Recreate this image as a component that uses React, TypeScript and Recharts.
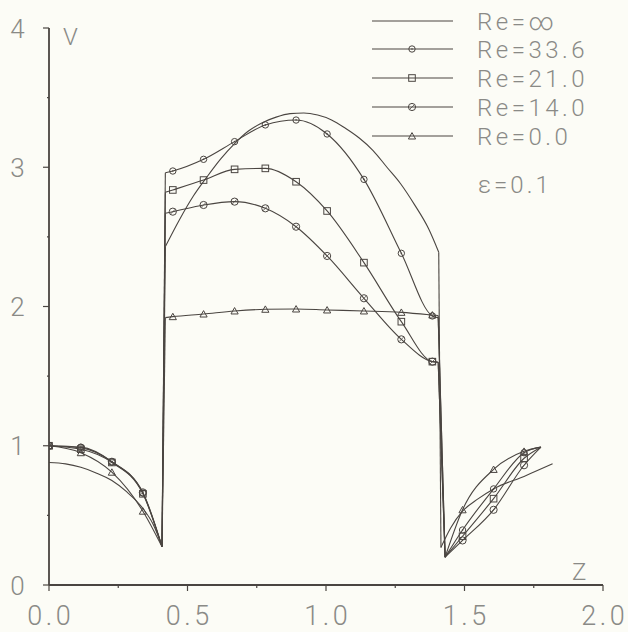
import React from "react";
import { LineChart, Line, XAxis, YAxis } from "recharts";

// ---------- axis ticks ----------
const zTicks = [0, 0.25, 0.5, 0.75, 1, 1.25, 1.5, 1.75, 2];
const zLabels: Record<string, string> = { "0": "0.0", "0.5": "0.5", "1": "1.0", "1.5": "1.5", "2": "2.0" };
const vTicks = [0, 0.5, 1, 1.5, 2, 2.5, 3, 3.5, 4];
const vLabels: Record<string, string> = { "0": "0", "1": "1", "2": "2", "3": "3", "4": "4" };

// z positions where symbols are plotted
const markerZ = [0, 0.115, 0.227, 0.339, 0.447, 0.558, 0.67, 0.781, 0.892, 1.004, 1.137, 1.272, 1.384, 1.493, 1.605, 1.715];

// ---------- series (z, V) ----------
const infLeft = [[0, 0.88], [0.06, 0.87], [0.115, 0.845], [0.17, 0.805], [0.227, 0.75], [0.28, 0.67], [0.339, 0.55], [0.375, 0.44], [0.408, 0.28]];
const infMid = [[0.42, 2.43], [0.47, 2.62], [0.52, 2.79], [0.57, 2.93], [0.62, 3.06], [0.67, 3.17], [0.72, 3.26], [0.77, 3.32], [0.82, 3.36], [0.87, 3.385], [0.92, 3.39], [0.97, 3.375], [1.02, 3.34], [1.07, 3.28], [1.12, 3.21], [1.17, 3.12], [1.22, 3.0], [1.27, 2.88], [1.32, 2.73], [1.37, 2.56], [1.407, 2.39]];
const infRight = [[1.415, 0.27], [1.45, 0.41], [1.493, 0.53], [1.55, 0.62], [1.605, 0.69], [1.715, 0.78], [1.818, 0.87]];

const re336Left = [[0, 1.0], [0.115, 0.99], [0.227, 0.885], [0.339, 0.66], [0.408, 0.275]];
const re336Mid = [[0.42, 2.96], [0.447, 2.973], [0.558, 3.057], [0.67, 3.184], [0.781, 3.304], [0.892, 3.339], [1.004, 3.239], [1.137, 2.913], [1.272, 2.382], [1.384, 1.932], [1.405, 1.92]];
const re336Right = [[1.43, 0.2], [1.493, 0.395], [1.605, 0.69], [1.715, 0.95], [1.776, 0.99]];

const re21Left = [[0, 1.0], [0.115, 0.975], [0.227, 0.88], [0.339, 0.655], [0.408, 0.275]];
const re21Mid = [[0.42, 2.82], [0.447, 2.837], [0.558, 2.908], [0.67, 2.985], [0.781, 2.992], [0.892, 2.896], [1.004, 2.686], [1.137, 2.315], [1.272, 1.891], [1.384, 1.604], [1.405, 1.6]];
const re21Right = [[1.43, 0.2], [1.493, 0.35], [1.605, 0.62], [1.715, 0.91], [1.776, 0.99]];

const re14Left = [[0, 1.0], [0.115, 0.985], [0.227, 0.885], [0.339, 0.665], [0.408, 0.275]];
const re14Mid = [[0.42, 2.67], [0.447, 2.681], [0.558, 2.729], [0.67, 2.753], [0.781, 2.705], [0.892, 2.573], [1.004, 2.363], [1.137, 2.059], [1.272, 1.764], [1.384, 1.604], [1.405, 1.6]];
const re14Right = [[1.43, 0.2], [1.493, 0.32], [1.605, 0.54], [1.715, 0.86], [1.776, 0.99]];

const re0Left = [[0, 1.0], [0.115, 0.95], [0.227, 0.81], [0.339, 0.53], [0.408, 0.275]];
const re0Mid = [[0.42, 1.92], [0.447, 1.927], [0.558, 1.946], [0.67, 1.968], [0.781, 1.98], [0.892, 1.982], [1.004, 1.975], [1.137, 1.968], [1.272, 1.958], [1.384, 1.939], [1.405, 1.935]];
const re0Right = [[1.43, 0.2], [1.493, 0.54], [1.605, 0.83], [1.715, 0.96], [1.776, 0.99]];

const seriesNames = ["Re=\u221e", "Re=33.6", "Re=21.0", "Re=14.0", "Re=0.0"];
const epsLabel = "\u03b5=0.1";

type Shape = "none" | "circleDot" | "square" | "circleSlash" | "triangle";

const INK = "#4a4541";
const TEXT = "#8a8a86";
const FONT = "Roboto, 'DejaVu Sans', sans-serif";

const toPts = (a: number[][]) => a.map(([x, y]) => ({ x, y }));

const seriesDefs: { name: string; shape: Shape; left: number[][]; mid: number[][]; right: number[][] }[] = [
  { name: seriesNames[0], shape: "none", left: infLeft, mid: infMid, right: infRight },
  { name: seriesNames[1], shape: "circleDot", left: re336Left, mid: re336Mid, right: re336Right },
  { name: seriesNames[2], shape: "square", left: re21Left, mid: re21Mid, right: re21Right },
  { name: seriesNames[3], shape: "circleSlash", left: re14Left, mid: re14Mid, right: re14Right },
  { name: seriesNames[4], shape: "triangle", left: re0Left, mid: re0Mid, right: re0Right },
];

function Marker({ shape, cx, cy }: { shape: Shape; cx: number; cy: number }) {
  const common = { fill: "none", stroke: INK, strokeWidth: 1 };
  if (shape === "circleDot")
    return (
      <g>
        <circle cx={cx} cy={cy} r={3.2} {...common} />
        <circle cx={cx} cy={cy} r={0.8} fill={INK} />
      </g>
    );
  if (shape === "square") return <rect x={cx - 3.3} y={cy - 3.3} width={6.6} height={6.6} {...common} />;
  if (shape === "circleSlash")
    return (
      <g>
        <circle cx={cx} cy={cy} r={3.6} {...common} />
        <line x1={cx - 2.4} y1={cy + 2.4} x2={cx + 2.4} y2={cy - 2.4} stroke={INK} strokeWidth={0.8} />
      </g>
    );
  if (shape === "triangle")
    return <path d={`M${cx - 3.6},${cy + 3} L${cx + 3.6},${cy + 3} L${cx},${cy - 3.4} Z`} {...common} />;
  return null;
}

const makeDot = (shape: Shape) => (props: any) => {
  const { cx, cy, payload, index } = props;
  const key = `dot-${shape}-${index}-${cx}`;
  if (shape === "none" || !payload || !markerZ.includes(payload.x) || cx == null || cy == null) return <g key={key} />;
  return (
    <g key={key}>
      <Marker shape={shape} cx={cx} cy={cy} />
    </g>
  );
};

const AXIS_Y = 585;
const AXIS_X = 49;

const XTick = (props: any) => {
  const { x, payload } = props;
  const v = payload.value as number;
  const label = zLabels[String(v)];
  return (
    <g>
      <line x1={x} y1={AXIS_Y} x2={x} y2={AXIS_Y + (label ? 6 : 3)} stroke={INK} strokeWidth={1.2} />
      {label && (
        <text x={x + 1.8} y={625} textAnchor="middle" fontSize={27} fontFamily={FONT} fontWeight={300} fill={TEXT} letterSpacing={3.5}>
          {label}
        </text>
      )}
    </g>
  );
};

const YTick = (props: any) => {
  const { y, payload } = props;
  const v = payload.value as number;
  const label = vLabels[String(v)];
  return (
    <g>
      <line x1={AXIS_X} y1={y} x2={AXIS_X - (label ? 6 : 2)} y2={y} stroke={INK} strokeWidth={1.2} />
      {label && (
        <text x={17.5} y={y + 9.5} textAnchor="middle" fontSize={26} fontFamily={FONT} fontWeight={300} fill={TEXT}>
          {label}
        </text>
      )}
    </g>
  );
};

export default function App() {
  const lines: React.ReactNode[] = [];
  seriesDefs.forEach((s, i) => {
    const segs = [s.left, s.mid, s.right];
    segs.forEach((seg, j) => {
      lines.push(
        <Line
          key={`s${i}-seg${j}`}
          data={toPts(seg)}
          dataKey="y"
          type="monotone"
          stroke={INK}
          strokeWidth={1.1}
          dot={makeDot(s.shape)}
          activeDot={false}
          isAnimationActive={false}
          legendType="none"
        />
      );
    });
    const jumps = [
      [s.left[s.left.length - 1], s.mid[0]],
      [s.mid[s.mid.length - 1], s.right[0]],
    ];
    jumps.forEach((jp, j) => {
      lines.push(
        <Line
          key={`s${i}-jump${j}`}
          data={toPts(jp)}
          dataKey="y"
          type="linear"
          stroke={INK}
          strokeWidth={1.1}
          dot={false}
          activeDot={false}
          isAnimationActive={false}
          legendType="none"
        />
      );
    });
  });

  const legendRows = [21, 49, 78, 107, 136];

  return (
    <div style={{ position: "absolute", left: 0, top: 0, width: 628, height: 632, background: "#fcfcf6" }}>
      <LineChart width={628} height={632} margin={{ top: 28, right: 25, bottom: 17, left: 0 }}>
        <XAxis
          type="number"
          dataKey="x"
          domain={[0, 2]}
          ticks={zTicks}
          interval={0}
          height={30}
          tickLine={false}
          axisLine={{ stroke: INK, strokeWidth: 1.8 }}
          tick={<XTick />}
          allowDataOverflow
        />
        <YAxis
          type="number"
          domain={[0, 4]}
          ticks={vTicks}
          interval={0}
          width={49}
          tickLine={false}
          axisLine={{ stroke: INK, strokeWidth: 1.8 }}
          tick={<YTick />}
          allowDataOverflow
        />
        {lines}
      </LineChart>
      <svg width={628} height={632} style={{ position: "absolute", left: 0, top: 0, pointerEvents: "none" }}>
        <text x={63} y={45} fontSize={24} fontFamily={FONT} fontWeight={300} fill={TEXT}>V</text>
        <text x={572} y={580} fontSize={24} fontFamily={FONT} fontWeight={300} fill={TEXT}>Z</text>
        {seriesDefs.map((s, i) => (
          <g key={`leg${i}`}>
            <line x1={372} y1={legendRows[i]} x2={453} y2={legendRows[i]} stroke={INK} strokeWidth={1} />
            <Marker shape={s.shape} cx={412} cy={legendRows[i]} />
            <text x={477} y={legendRows[i] + 8.5} fontSize={24} fontFamily={FONT} fontWeight={300} fill={TEXT} letterSpacing={3.5}>
              {s.name}
            </text>
          </g>
        ))}
        <text x={478} y={193} fontSize={24} fontFamily={FONT} fontWeight={300} fill={TEXT} letterSpacing={3}>
          {epsLabel}
        </text>
      </svg>
    </div>
  );
}
